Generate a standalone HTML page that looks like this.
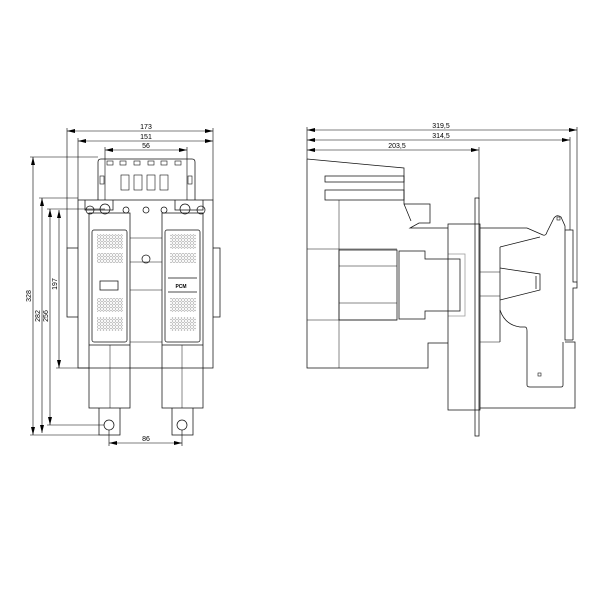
<!DOCTYPE html>
<html><head><meta charset="utf-8"><style>html,body{margin:0;padding:0;background:#fff}svg{display:block}</style></head>
<body>
<svg width="600" height="600" viewBox="0 0 600 600" xmlns="http://www.w3.org/2000/svg" font-family="Liberation Sans, sans-serif">
<defs>
<pattern id="dots" width="3" height="3" patternUnits="userSpaceOnUse"><circle cx="1.5" cy="1.5" r="0.8" fill="none" stroke="#777" stroke-width="0.45"/></pattern>
<marker id="a" markerWidth="8" markerHeight="6" refX="8" refY="3" orient="auto-start-reverse" markerUnits="userSpaceOnUse"><path d="M0,1 L8,3 L0,5z" fill="#000"/></marker>
</defs>
<g stroke="#000" stroke-width="0.6" fill="none">
<line x1="67" y1="131" x2="213" y2="131" marker-start="url(#a)" marker-end="url(#a)"/>
<line x1="78" y1="141" x2="213" y2="141" marker-start="url(#a)" marker-end="url(#a)"/>
<line x1="105" y1="150" x2="187" y2="150" marker-start="url(#a)" marker-end="url(#a)"/>
<line x1="67" y1="128" x2="67" y2="248"/><line x1="213" y1="128" x2="213" y2="200"/>
<line x1="78" y1="138" x2="78" y2="200"/><line x1="105" y1="147" x2="105" y2="200"/><line x1="187" y1="147" x2="187" y2="200"/>
<line x1="33" y1="157" x2="33" y2="435" marker-start="url(#a)" marker-end="url(#a)"/>
<line x1="42" y1="198" x2="42" y2="433" marker-start="url(#a)" marker-end="url(#a)"/>
<line x1="50" y1="209" x2="50" y2="425" marker-start="url(#a)" marker-end="url(#a)"/>
<line x1="59" y1="210" x2="59" y2="368" marker-start="url(#a)" marker-end="url(#a)"/>
<line x1="30" y1="157" x2="98" y2="157"/><line x1="39" y1="198" x2="78" y2="198"/>
<line x1="47" y1="209" x2="105" y2="209"/><line x1="56" y1="368" x2="89" y2="368"/>
<line x1="30" y1="435" x2="99" y2="435"/><line x1="47" y1="425" x2="104" y2="425"/>
<line x1="109" y1="443" x2="182" y2="443" marker-start="url(#a)" marker-end="url(#a)"/>
<line x1="109" y1="430" x2="109" y2="446"/><line x1="182" y1="430" x2="182" y2="446"/>
</g>
<g font-size="7" fill="#000" text-anchor="middle">
<text x="146" y="129">173</text><text x="146" y="139">151</text><text x="146" y="148">56</text>
<text x="146" y="441">86</text>
<text transform="translate(31,296) rotate(-90)">328</text>
<text transform="translate(40,316) rotate(-90)">282</text>
<text transform="translate(48,316) rotate(-90)">256</text>
<text transform="translate(57,284) rotate(-90)">197</text>
</g>
<g stroke="#111" stroke-width="0.75" fill="none">
<path d="M98,200 V162 Q98,159 101,159 H192 Q195,159 195,162 V200"/>
<g stroke-width="0.6"><rect x="107" y="161" width="6" height="4"/><rect x="120" y="161" width="6" height="4"/><rect x="134" y="161" width="6" height="4"/><rect x="148" y="161" width="6" height="4"/><rect x="161" y="161" width="6" height="4"/><rect x="175" y="161" width="6" height="4"/>
<rect x="121" y="175" width="8" height="15"/><rect x="134" y="175" width="8" height="15"/><rect x="147" y="175" width="8" height="15"/><rect x="160" y="175" width="8" height="15"/>
<rect x="100" y="176" width="4" height="8"/><rect x="188" y="176" width="4" height="8"/></g>
<rect x="78" y="200" width="135" height="168"/>
<path d="M78,248 H67 V317 H78"/><path d="M213,248 H220 V317 H213"/>
<path d="M85,200 V210 H113 V200"/><path d="M175,200 V210 H203 V200"/>
<circle cx="90" cy="210" r="4"/><circle cx="105" cy="209" r="5"/><circle cx="126" cy="210" r="3"/><circle cx="146" cy="210" r="3"/><circle cx="164" cy="210" r="3"/><circle cx="185" cy="209" r="5"/><circle cx="201" cy="210" r="4"/>
<rect x="89" y="213" width="41" height="195"/><rect x="162" y="213" width="41" height="195"/>
<rect x="92" y="230" width="35" height="112" rx="2"/><rect x="165" y="230" width="35" height="112" rx="2"/>
<line x1="130" y1="238" x2="162" y2="238" stroke-width="0.5"/><line x1="130" y1="262" x2="162" y2="262" stroke-width="0.5"/><line x1="130" y1="290" x2="162" y2="290" stroke-width="0.5"/><line x1="130" y1="342" x2="162" y2="342" stroke-width="0.5"/>
<circle cx="146" cy="259" r="4"/>
<rect x="100" y="281" width="18" height="9"/>
<line x1="168" y1="278" x2="197" y2="278"/><line x1="168" y1="292" x2="197" y2="292"/>
<line x1="89" y1="345" x2="130" y2="345"/><line x1="162" y1="345" x2="203" y2="345"/>
<line x1="110" y1="345" x2="110" y2="408" stroke-width="0.5"/><line x1="182" y1="345" x2="182" y2="408" stroke-width="0.5"/>
<path d="M99,408 V435 H120 V408"/><path d="M172,408 V435 H193 V408"/>
<circle cx="109" cy="425" r="5"/><circle cx="182" cy="425" r="5"/>
</g>
<g fill="url(#dots)" stroke="none">
<rect x="97" y="234" width="26" height="15"/><rect x="97" y="253" width="26" height="10"/>
<rect x="97" y="298" width="26" height="14"/><rect x="97" y="317" width="26" height="14"/>
<rect x="170" y="234" width="26" height="15"/><rect x="170" y="253" width="26" height="10"/>
<rect x="170" y="298" width="26" height="14"/><rect x="170" y="317" width="26" height="14"/>
</g>
<text x="181" y="288" font-size="5" font-weight="bold" text-anchor="middle">PCM</text>
<g stroke="#000" stroke-width="0.6" fill="none">
<line x1="307" y1="130" x2="577" y2="130" marker-start="url(#a)" marker-end="url(#a)"/>
<line x1="307" y1="140" x2="570" y2="140" marker-start="url(#a)" marker-end="url(#a)"/>
<line x1="307" y1="150" x2="479" y2="150" marker-start="url(#a)" marker-end="url(#a)"/>
<line x1="307" y1="127" x2="307" y2="159"/><line x1="577" y1="127" x2="577" y2="282"/>
<line x1="570" y1="137" x2="570" y2="230"/><line x1="479" y1="147" x2="479" y2="199"/>
</g>
<g font-size="7" text-anchor="middle"><text x="441" y="128">319,5</text><text x="441" y="138">314,5</text><text x="397" y="148">203,5</text></g>
<g stroke="#111" stroke-width="0.75" fill="none">
<path d="M307,159 L404,168 V204 H430 V223 H419 L410,228 H448"/>
<path d="M404,204 L411,221"/>
<rect x="325" y="176" width="79" height="6"/><rect x="325" y="190" width="79" height="10"/>
<path d="M307,159 V368 H428 V343 H448"/>
<line x1="339" y1="200" x2="339" y2="368" stroke-width="0.5"/>
<line x1="307" y1="249" x2="397" y2="249" stroke-width="0.5"/><line x1="307" y1="320" x2="397" y2="320" stroke-width="0.5"/>
<rect x="339" y="250" width="58" height="70"/>
<line x1="339" y1="266" x2="397" y2="266" stroke-width="0.5"/><line x1="339" y1="303" x2="397" y2="303" stroke-width="0.5"/>
<path d="M399,251 H425 V259 H460 V311 H425 V319 H399 Z"/>
<path d="M448,254 H465 V316 H448" stroke="#999"/>
<rect x="448" y="224" width="32" height="186"/>
<rect x="475" y="198" width="4" height="238"/>
<path d="M480,228 H527 L543,235 Q546,236 547,232 L554,218 Q557,214 561,217 L565,226 V340 H573"/>
<path d="M565,230 H573 V282 H577 V288 H573 V340"/>
<path d="M565,342 H575 V408 H480"/>
<path d="M500,247 L540,237"/>
<path d="M500,247 V342"/>
<path d="M500,268 L540,274 V290 L500,300"/>
<path d="M536,276 V289"/>
<path d="M500,310 Q505,325 520,327 H525 Q527,327 527,331 V385 Q527,387 530,387 H561 Q563,387 563,385 V342"/>
<line x1="480" y1="272" x2="500" y2="272" stroke-width="0.5"/><line x1="480" y1="296" x2="500" y2="296" stroke-width="0.5"/>
<line x1="480" y1="342" x2="500" y2="342" stroke-width="0.5"/>
<rect x="557" y="217" width="3" height="3" stroke-width="0.6"/>
<rect x="538" y="373" width="3" height="3" stroke-width="0.6"/>
</g>
</svg>
</body></html>
